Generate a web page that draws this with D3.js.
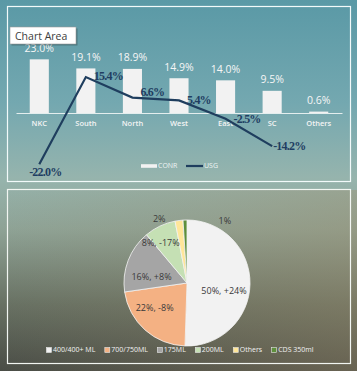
<!DOCTYPE html>
<html>
<head>
<meta charset="utf-8">
<script src="https://d3js.org/d3.v7.min.js"></script>
<style>
  body, html { margin: 0; padding: 0; width: 100%; height: 100%; overflow: hidden; }
  svg { display: block; }
</style>
</head>
<body>
<svg id="chart" width="357" height="371"></svg>
<script>
  // top chart data
  const regions = ["NKC", "South", "North", "West", "East", "SC", "Others"];
  const conrValues = [23.0, 19.1, 18.9, 14.9, 14.0, 9.5, 0.6];
  const usgValues = [-22.0, 15.4, 6.6, 5.4, -2.5, -14.2];

  // bottom chart data
  const packSizes = ["400/400+ ML", "700/750ML", "175ML", "200ML", "Others", "CDS 350ml"];
  const packShares = [50, 22, 16, 8, 2, 1];
  const packLabels = ["50%, +24%", "22%, -8%", "16%, +8%", "8%, -17%", "2%", "1%"];

  const svg = d3.select("#chart");
  const W = 357, H = 371;

  // background
  const defs = svg.append("defs");
  const bg = defs.append("linearGradient").attr("id", "bg")
    .attr("x1", 0).attr("y1", 0).attr("x2", 0).attr("y2", 1);
  [[0, "#5a99a6"], [0.28, "#74a8b0"], [0.48, "#96b4ad"], [0.62, "#8ea295"], [0.82, "#687163"], [1, "#4a4d46"]]
    .forEach(s => bg.append("stop").attr("offset", s[0]).attr("stop-color", s[1]));
  const warm = defs.append("linearGradient").attr("id", "warm")
    .attr("x1", 0).attr("y1", 0).attr("x2", 1).attr("y2", 0);
  warm.append("stop").attr("offset", 0).attr("stop-color", "#a08c68").attr("stop-opacity", 0);
  warm.append("stop").attr("offset", 1).attr("stop-color", "#a08c68").attr("stop-opacity", 0.35);

  svg.append("rect").attr("width", W).attr("height", H).attr("fill", "url(#bg)");
  svg.append("rect").attr("y", 190).attr("width", W).attr("height", H - 190).attr("fill", "url(#warm)");

  // frames
  svg.append("rect").attr("x", 7.5).attr("y", 6.5).attr("width", 343).attr("height", 175)
    .attr("fill", "none").attr("stroke", "#f2fafa").attr("stroke-width", 1.2);
  svg.append("rect").attr("x", 7.5).attr("y", 189.5).attr("width", 343).attr("height", 174)
    .attr("fill", "none").attr("stroke", "#f2f6f2").attr("stroke-width", 1.2);

  // ---------- top: bars + line ----------
  const x = d3.scaleBand().domain(regions).range([16, 342])
    .paddingInner(0.59).paddingOuter(0.295);
  const y = d3.scaleLinear().domain([-30, 30]).range([183, 43]);
  const topG = svg.append("g");

  topG.selectAll("rect.bar")
    .data(conrValues)
    .enter()
    .append("rect")
    .attr("class", "bar")
    .attr("x", (d, i) => x(regions[i]))
    .attr("y", d => y(d))
    .attr("width", x.bandwidth())
    .attr("height", d => y(0) - y(d))
    .attr("fill", "#f2f2f2");

  // x axis
  const xAxis = topG.append("g")
    .attr("transform", `translate(0,${y(0)})`)
    .call(d3.axisBottom(x).tickSize(0).tickPadding(8));
  xAxis.select(".domain").attr("stroke", "#e4eeee").attr("stroke-width", 1);
  xAxis.selectAll("text")
    .attr("fill", "#f4f4f4")
    .style("font-family", "Open Sans")
    .style("font-size", "7.5px")
    .style("font-weight", 600);

  topG.selectAll("text.barlbl")
    .data(conrValues)
    .enter()
    .append("text")
    .attr("class", "barlbl")
    .attr("x", (d, i) => x(regions[i]) + x.bandwidth() / 2)
    .attr("y", d => y(d) - 7.5)
    .attr("text-anchor", "middle")
    .attr("fill", "#f6f6f6")
    .style("font-family", "Open Sans")
    .style("font-size", "10.5px")
    .text(d => d.toFixed(1) + "%");

  const cx = (i) => x(regions[i]) + x.bandwidth() / 2;
  const line = d3.line().x((d, i) => cx(i)).y(d => y(d));
  topG.append("path")
    .datum(usgValues)
    .attr("d", line)
    .attr("fill", "none")
    .attr("stroke", "#1f3e5e")
    .attr("stroke-width", 2.2);

  const usgNudge = [[6, 7], [8, -1], [8, -6], [8, -1], [8, 0], [1, 0]];
  topG.selectAll("text.usglbl")
    .data(usgValues)
    .enter()
    .append("text")
    .attr("class", "usglbl")
    .attr("x", (d, i) => cx(i) + usgNudge[i][0])
    .attr("y", (d, i) => y(d) + usgNudge[i][1])
    .attr("dy", "0.35em")
    .attr("text-anchor", (d, i) => i === 0 ? "middle" : "start")
    .attr("fill", "#1f3e62")
    .style("font-family", "Liberation Serif")
    .style("font-weight", "bold")
    .style("font-size", "12px")
    .style("letter-spacing", "-0.8px")
    .text(d => d.toFixed(1) + "%");

  // top legend
  const tl = topG.append("g").attr("transform", "translate(141,166)");
  tl.append("rect").attr("x", 0).attr("y", -1.8).attr("width", 16).attr("height", 3.6).attr("fill", "#f2f2f2");
  tl.append("text").attr("x", 17).attr("y", 0).attr("dy", "0.35em")
    .attr("fill", "#eef4f4").style("font-family", "Open Sans").style("font-size", "7px").text("CONR");
  tl.append("line").attr("x1", 45).attr("x2", 62).attr("y1", 0).attr("y2", 0)
    .attr("stroke", "#1f3e5e").attr("stroke-width", 2.2);
  tl.append("text").attr("x", 63).attr("y", 0).attr("dy", "0.35em")
    .attr("fill", "#eef4f4").style("font-family", "Open Sans").style("font-size", "7px").text("USG");

  // "Chart Area" tip
  const tip = svg.append("g").attr("transform", "translate(10,27)");
  tip.append("rect").attr("x", 1.5).attr("y", 1.5).attr("width", 66).attr("height", 17)
    .attr("fill", "#000").attr("opacity", 0.25);
  tip.append("rect").attr("x", 0).attr("y", 0).attr("width", 66).attr("height", 17)
    .attr("fill", "#ffffff").attr("stroke", "#9a9a9a").attr("stroke-width", 0.6);
  tip.append("text").attr("x", 5).attr("y", 12.5)
    .attr("fill", "#3c3c3c").style("font-family", "Open Sans").style("font-size", "10.5px").text("Chart Area");

  // ---------- bottom: pie ----------
  const pieColors = ["#f2f2f2", "#f4b183", "#a5a5a5", "#c5e0b4", "#ffe699", "#5e8f3c"];
  const color = d3.scaleOrdinal().domain(packSizes).range(pieColors);
  const pie = d3.pie().sort(null).value(d => d);
  const R = 63;
  const arc = d3.arc().innerRadius(0).outerRadius(R);
  const labelArc = d3.arc().innerRadius(38).outerRadius(38);
  const slices = pie(packShares);

  const pg = svg.append("g").attr("transform", "translate(187,283)");
  pg.selectAll("path")
    .data(slices)
    .enter()
    .append("path")
    .attr("d", arc)
    .attr("fill", (d, i) => color(packSizes[i]))
    .attr("stroke", "#f4f4f4")
    .attr("stroke-width", 0.8);

  const pieNudge = [[-1, 7], [-7, -3], [0, 7], [-10, -6], [-23, -26], [39, -24]];
  pg.selectAll("text")
    .data(slices)
    .enter()
    .append("text")
    .attr("transform", (d, i) => {
      const c = labelArc.centroid(d);
      return `translate(${c[0] + pieNudge[i][0]},${c[1] + pieNudge[i][1]})`;
    })
    .attr("dy", "0.35em")
    .attr("text-anchor", "middle")
    .attr("fill", "#3a3a3a")
    .style("font-family", "Open Sans")
    .style("font-size", "9px")
    .text((d, i) => packLabels[i]);

  // bottom legend
  const bl = svg.append("g").attr("transform", "translate(0,350)");
  let lx = 0;
  packSizes.forEach((name, i) => {
    const g = bl.append("g");
    g.append("rect").attr("x", 0).attr("y", -2.5).attr("width", 5).attr("height", 5)
      .attr("fill", color(name)).attr("stroke", "#e8e8e8").attr("stroke-width", 0.6);
    const t = g.append("text").attr("x", 6.5).attr("y", 0).attr("dy", "0.35em")
      .attr("fill", "#f2f2f2").style("font-family", "Open Sans").style("font-size", "7px").text(name);
    g.attr("transform", `translate(${lx},0)`);
    lx += 6.5 + t.node().getComputedTextLength() + 9.5;
  });
  const total = lx - 9.5;
  bl.attr("transform", `translate(${180 - total / 2},350)`);
</script>
</body>
</html>
